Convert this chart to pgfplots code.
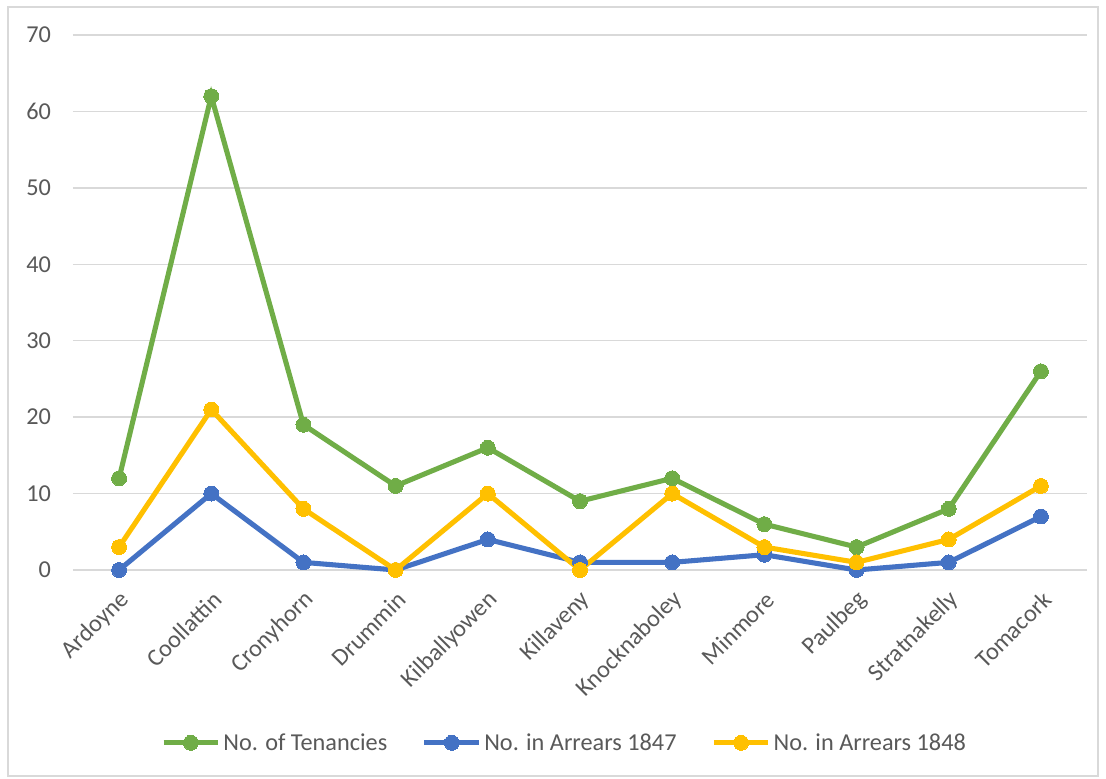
\documentclass[border=0pt]{standalone}
\usepackage{pgfplots}
\pgfplotsset{compat=1.18}
\usepackage{fontspec}
\setmainfont{Carlito}
\definecolor{cgreen}{HTML}{70AD47}
\definecolor{cblue}{HTML}{4472C4}
\definecolor{cyellow}{HTML}{FFC000}
\definecolor{cgrid}{HTML}{D9D9D9}
\definecolor{ctext}{HTML}{595959}
\begin{document}
\begin{tikzpicture}
\path[use as bounding box, fill=white] (-54.75pt,-156pt) rectangle (774.75pt,427.5pt);
\draw[cgrid, line width=1.1pt] (-48.75pt,-154.5pt) rectangle (768.75pt,422.25pt);
\begin{axis}[
  at={(0pt,0pt)}, anchor=south west,
  scale only axis, width=760.5pt, height=401.25pt,
  xmin=-0.5, xmax=10.5, ymin=0, ymax=70,
  xtick={0,...,10},
  xticklabels={Ardoyne,Coollattin,Cronyhorn,Drummin,Kilballyowen,Killaveny,Knocknaboley,Minmore,Paulbeg,Stratnakelly,Tomacork},
  ytick={0,10,...,70},
  ymajorgrids, grid style={cgrid, line width=1.1pt},
  axis line style={draw=none}, tick style={draw=none},
  font=\fontsize{18.2}{21}\selectfont\color{ctext},
  /pgf/number format/assume math mode=true,
  yticklabel style={xshift=-13pt},
  xticklabel style={rotate=45, anchor=east, xshift=-7pt, yshift=-17pt},
  legend style={at={(0.485,-0.323)}, anchor=center, draw=none, legend columns=3,
    font=\fontsize{18.2}{21}\selectfont\color{ctext},
    /tikz/every even column/.append style={column sep=24pt}, inner sep=0pt},
  legend image code/.code={\draw[#1, mark repeat=2, mark phase=2] plot coordinates {(0cm,0cm) (0.72cm,0cm) (1.44cm,0cm)};},
  every axis plot/.append style={line width=3.8pt, mark=*, mark size=5.6pt, mark options={line width=0pt}},
  clip=false,
]
\addplot[color=cgreen] coordinates {(0,12) (1,62) (2,19) (3,11) (4,16) (5,9) (6,12) (7,6) (8,3) (9,8) (10,26)};
\addlegendentry{No. of Tenancies}
\addplot[color=cblue] coordinates {(0,0) (1,10) (2,1) (3,0) (4,4) (5,1) (6,1) (7,2) (8,0) (9,1) (10,7)};
\addlegendentry{No. in Arrears 1847}
\addplot[color=cyellow] coordinates {(0,3) (1,21) (2,8) (3,0) (4,10) (5,0) (6,10) (7,3) (8,1) (9,4) (10,11)};
\addlegendentry{No. in Arrears 1848}
\end{axis}
\end{tikzpicture}
\end{document}
